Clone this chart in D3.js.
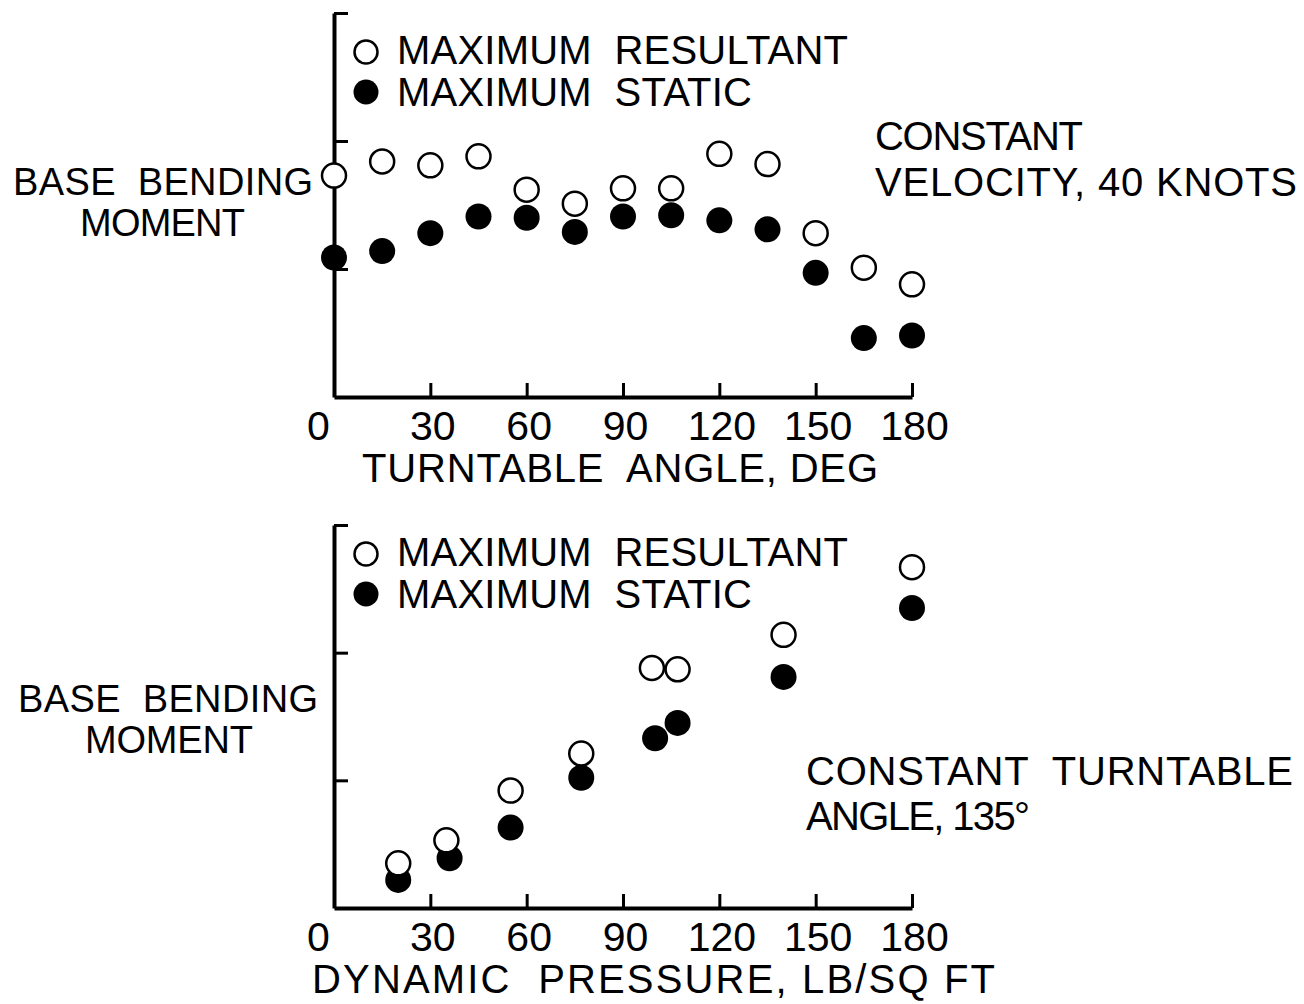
<!DOCTYPE html>
<html>
<head>
<meta charset="utf-8">
<script src="https://cdn.jsdelivr.net/npm/d3@7"></script>
<style>
  body { margin: 0; background: #fff; }
  text { font-family: "Liberation Sans", Arial, sans-serif; fill: #000; white-space: pre; }
</style>
</head>
<body>
<div id="grafico"></div>
<script>
// Dati
var angoli = [0, 15, 30, 45, 60, 75, 90, 105, 120, 135, 150, 165, 180];
var risultanteSopra = [1.73, 1.84, 1.81, 1.88, 1.62, 1.51, 1.63, 1.63, 1.90, 1.82, 1.28, 1.01, 0.88];
var staticoSopra = [1.09, 1.14, 1.28, 1.41, 1.40, 1.29, 1.41, 1.42, 1.38, 1.31, 0.97, 0.46, 0.48];

var pressioniRis = [20, 35, 55, 77, 99, 107, 140, 180];
var risultanteSotto = [0.35, 0.53, 0.92, 1.21, 1.88, 1.87, 2.14, 2.67];
var pressioniSta = [20, 36, 55, 77, 100, 107, 140, 180];
var staticoSotto = [0.22, 0.39, 0.63, 1.02, 1.33, 1.45, 1.81, 2.35];

var tickX = [0, 30, 60, 90, 120, 150, 180];
var tickY = [1, 2, 3];

var width = 1304, height = 1004;

var svg = d3.select("#grafico")
  .append("svg")
  .attr("width", width)
  .attr("height", height);

var x = d3.scaleLinear().domain([0, 180]).range([334, 912]);

// scrive un testo con larghezza fissata
function scrivi(t, px, py, w, fs) {
  svg.append("text")
    .attr("x", px)
    .attr("y", py)
    .attr("textLength", w)
    .attr("lengthAdjust", "spacing")
    .style("font-size", (fs || 40) + "px")
    .text(t);
}

function pannello(y, xRis, yRis, xSta, ySta, legY) {
  // asse Y
  var ay = svg.append("g")
    .attr("transform", "translate(" + x(0) + ",0)")
    .call(d3.axisLeft(y).tickValues(tickY).tickSize(-14).tickSizeOuter(0).tickFormat(""));
  ay.select(".domain").attr("stroke-width", 4);
  ay.selectAll(".tick line").attr("stroke-width", 3);

  // asse X
  var ax = svg.append("g")
    .attr("transform", "translate(0," + y(0) + ")")
    .call(d3.axisBottom(x).tickValues(tickX).tickSize(-14).tickSizeOuter(0).tickPadding(14));
  ax.select(".domain").attr("stroke-width", 4);
  ax.selectAll(".tick line").attr("stroke-width", 3);
  ax.selectAll(".tick text")
    .style("font-size", "41px")
    .attr("font-family", null)
    .attr("dx", function (d) { return d == 0 ? -16 : 2; });

  // punti pieni (statico)
  svg.append("g").selectAll("circle")
    .data(xSta)
    .enter()
    .append("circle")
    .attr("cx", function (d) { return x(d); })
    .attr("cy", function (d, i) { return y(ySta[i]); })
    .attr("r", 13)
    .attr("fill", "black");

  // punti vuoti (risultante)
  svg.append("g").selectAll("circle")
    .data(xRis)
    .enter()
    .append("circle")
    .attr("cx", function (d) { return x(d); })
    .attr("cy", function (d, i) { return y(yRis[i]); })
    .attr("r", 12)
    .attr("fill", "white")
    .attr("stroke", "black")
    .attr("stroke-width", 2.5);

  // legenda
  svg.append("circle").attr("cx", 366).attr("cy", legY).attr("r", 11.5)
    .attr("fill", "white").attr("stroke", "black").attr("stroke-width", 2.5);
  svg.append("circle").attr("cx", 366).attr("cy", legY + 40).attr("r", 12.5)
    .attr("fill", "black");
  scrivi("MAXIMUM  RESULTANT", 397, legY + 12, 451);
  scrivi("MAXIMUM  STATIC", 397, legY + 54, 355);
}

var ySopra = d3.scaleLinear().domain([0, 3]).range([397, 13]);
var ySotto = d3.scaleLinear().domain([0, 3]).range([908, 525]);

pannello(ySopra, angoli, risultanteSopra, angoli, staticoSopra, 52);
pannello(ySotto, pressioniRis, risultanteSotto, pressioniSta, staticoSotto, 554);

// testi del pannello superiore
scrivi("BASE  BENDING", 13, 195, 300, 38);
scrivi("MOMENT", 80, 236, 165, 38);
scrivi("CONSTANT", 875, 150, 208);
scrivi("VELOCITY, 40 KNOTS", 875, 196, 422);
scrivi("TURNTABLE  ANGLE, DEG", 362, 482, 516);

// testi del pannello inferiore
scrivi("BASE  BENDING", 18, 712, 300, 38);
scrivi("MOMENT", 85, 753, 168, 38);
scrivi("CONSTANT  TURNTABLE", 806, 785, 487);
scrivi("ANGLE, 135°", 806, 830, 224);
scrivi("DYNAMIC  PRESSURE, LB/SQ FT", 312, 993, 683);
</script>
</body>
</html>
